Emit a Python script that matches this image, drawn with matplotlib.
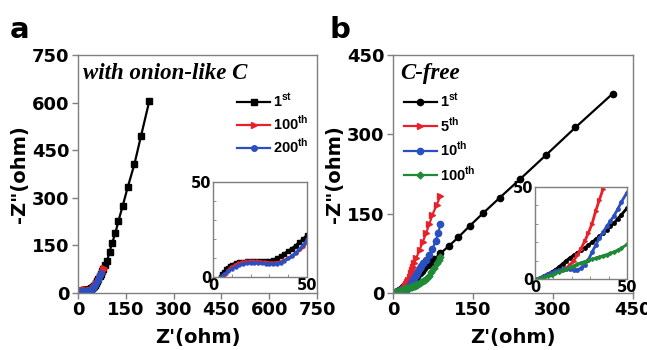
import numpy as np
import matplotlib.pyplot as plt

plt.rcParams['font.family'] = 'DejaVu Sans'
plt.rcParams['font.weight'] = 'bold'
plt.rcParams['mathtext.fontset'] = 'custom'
plt.rcParams['mathtext.rm'] = 'Liberation Sans:bold'
plt.rcParams['mathtext.bf'] = 'Liberation Sans:bold'

# ---- panel a : with onion-like C ----
a1_x = [4, 5, 6, 7, 8, 9, 10, 12, 14, 16, 18, 20, 22, 24, 26, 28, 30, 32, 34, 36, 38, 40,
        42, 44, 46, 48, 50, 53, 56, 60, 64, 68, 72, 76, 80, 85, 91, 99, 107, 117, 127,
        140, 156, 177, 198, 224]
a1_y = [0, 1.5, 2.8, 4, 5, 5.8, 6.5, 7.3, 7.8, 8.1, 8.3, 8.4, 8.4, 8.3, 8.2, 8.2, 8.3, 8.8,
        9.8, 11, 12.3, 13.6, 15, 16.5, 18.2, 20, 22, 26, 31, 38, 45, 52, 60, 68, 77, 87, 100,
        130, 157, 188, 227, 274, 333, 406, 496, 606]
a100_x = [6, 7, 8, 9, 10, 12, 14, 16, 18, 20, 22, 24, 26, 28, 30, 32, 34, 36, 38, 40, 42, 44,
          46, 48, 50, 54, 58, 62, 66, 70, 74, 78, 81]
a100_y = [0, 1.8, 3.2, 4.3, 5.2, 6.5, 7.4, 7.9, 8.2, 8.3, 8.3, 8.2, 8.0, 7.8, 7.6, 7.5, 7.6,
          8.0, 8.8, 9.8, 11, 12.4, 14, 16, 18.2, 24, 31, 39, 47, 55, 63, 71, 78]
a200_x = [4, 6, 8, 10, 12, 14, 16, 18, 20, 22, 24, 26, 28, 30, 32, 34, 36, 38, 40, 42, 44, 46,
          48, 50, 54, 58, 62, 66, 70, 73]
a200_y = [0, 1.5, 3, 4.3, 5.4, 6.3, 6.9, 7.3, 7.5, 7.5, 7.4, 7.2, 7.0, 6.8, 6.8, 7.0, 7.6,
          8.6, 9.8, 11.2, 12.8, 14.6, 16.8, 19.5, 25, 33, 41, 50, 58, 64]
a_labels = [r'1$^{\mathbf{st}}$', r'100$^{\mathbf{th}}$', r'200$^{\mathbf{th}}$']

# ---- panel b : C-free ----
b1_x = [1, 3, 5, 7, 9, 11, 13, 15, 17, 19, 21, 23, 25, 27, 29, 31, 33, 35, 37, 39, 41, 43,
        45, 47, 50, 54, 59, 65, 71, 77, 89, 105, 122, 144, 169, 200, 239, 286, 342, 412]
b1_y = [0, 0.8, 1.8, 2.8, 3.8, 5, 6.6, 8.3, 10, 11.5, 12.9, 14.2, 15.6, 17, 18.4, 20, 21.6,
        23.2, 25, 26.8, 28.6, 30.5, 32.8, 35, 38.5, 42.5, 47.5, 53, 58.5, 64, 75, 89, 105,
        127, 151, 180, 216, 260, 313, 377]
b5_x = [1, 3, 5, 7, 9, 11, 13, 15, 17, 19, 21, 23, 25, 27, 29, 31, 33, 35, 37, 40, 44, 50,
        56, 62, 68, 74, 82, 89]
b5_y = [0, 0.6, 1.3, 2.1, 3, 3.7, 4.4, 5.1, 6, 7.6, 10, 13, 16.5, 20.5, 25, 30, 37, 43, 49,
        57, 67, 82, 97, 113, 130, 148, 167, 184]
b10_x = [1, 3, 5, 7, 9, 11, 13, 15, 17, 19, 21, 23, 25, 27, 29, 31, 33, 35, 37, 39, 41, 43,
         45, 47, 50, 53, 57, 62, 68, 74, 80, 85, 89]
b10_y = [0, 0.8, 1.6, 2.5, 3.5, 4.2, 4.8, 5.2, 5.3, 5.2, 5, 5.1, 5.8, 7.5, 10.5, 14.5, 18.5,
         22.2, 25.5, 28.6, 31.5, 34.5, 38, 42, 47, 51, 56, 62, 72, 84, 98, 114, 131]
b100_x = [1, 3, 5, 7, 9, 11, 13, 15, 17, 19, 21, 23, 25, 27, 29, 31, 33, 35, 37, 39, 41, 43,
          45, 47, 50, 53, 57, 60, 64, 68, 72, 77, 82, 86, 88]
b100_y = [0, 0.5, 1.1, 1.7, 2.3, 3, 3.8, 4.7, 5.5, 6.3, 7.2, 8, 8.8, 9.5, 10.1, 10.7, 11.3,
          12, 12.6, 13.3, 14, 14.8, 15.7, 16.8, 18.8, 21, 23, 25, 29, 33, 40, 47, 56, 63, 68]
b_labels = [r'1$^{\mathbf{st}}$', r'5$^{\mathbf{th}}$', r'10$^{\mathbf{th}}$',
            r'100$^{\mathbf{th}}$']

RED = '#e8202a'
BLUE = '#2a4fc0'
GREEN = '#1f8a35'
FRAME = '#7f7f7f'

a_series = [(a1_x, a1_y, 'black', 's', 4), (a100_x, a100_y, RED, '>', 4.5),
            (a200_x, a200_y, BLUE, 'o', 4)]
b_series = [(b1_x, b1_y, 'black', 'o', 4.5), (b5_x, b5_y, RED, '>', 5),
            (b10_x, b10_y, BLUE, 'o', 4.5), (b100_x, b100_y, GREEN, 'D', 3.5)]


def style_frame(ax):
    for s in ax.spines.values():
        s.set_color(FRAME)
        s.set_linewidth(1.0)


def draw(ax, series, labels=None):
    for i, (x, y, c, m, ms) in enumerate(series):
        ax.plot(x, y, color=c, marker=m, markersize=ms, lw=1.6,
                label=labels[i] if labels else None)


fig = plt.figure(figsize=(6.47, 3.5), dpi=100)

axA = fig.add_axes([78 / 647, 1 - 293 / 350, 239 / 647, 238 / 350])
axB = fig.add_axes([393 / 647, 1 - 293 / 350, 240 / 647, 238 / 350])

for ax, series, labels, lim, ticks in [
        (axA, a_series, a_labels, 750, [0, 150, 300, 450, 600, 750]),
        (axB, b_series, b_labels, 450, [0, 150, 300, 450])]:
    draw(ax, series, labels)
    ax.set_xlim(0, lim)
    ax.set_ylim(0, lim)
    ax.set_xticks(ticks)
    ax.set_yticks(ticks)
    ax.tick_params(direction='out', length=4, width=1, color=FRAME, labelsize=13, pad=2)
    ax.set_xlabel("Z'(ohm)", fontsize=14, fontweight='bold', labelpad=6)
    ax.set_ylabel('-Z"(ohm)', fontsize=14, fontweight='bold', labelpad=2)
    style_frame(ax)

axA.text(0.02, 0.9, 'with onion-like C', transform=axA.transAxes, fontsize=16.5,
         family='Liberation Serif', fontweight='bold', style='italic')
axB.text(0.03, 0.9, 'C-free', transform=axB.transAxes, fontsize=16.5,
         family='Liberation Serif', fontweight='bold', style='italic')

legA = axA.legend(loc='upper left', bbox_to_anchor=(0.64, 0.87), frameon=False,
                  prop={'family': 'Liberation Sans', 'weight': 'bold', 'size': 10.5},
                  handlelength=2.3, handletextpad=0.2, labelspacing=0.3, borderaxespad=0)
legB = axB.legend(loc='upper left', bbox_to_anchor=(0.02, 0.87), frameon=False,
                  prop={'family': 'Liberation Sans', 'weight': 'bold', 'size': 10.5},
                  handlelength=2.3, handletextpad=0.2, labelspacing=0.4, borderaxespad=0)

fig.text(10 / 647, 1 - 38 / 350, 'a', fontsize=21, fontweight='bold')
fig.text(330 / 647, 1 - 38 / 350, 'b', fontsize=21, fontweight='bold')

# insets
inA = fig.add_axes([213 / 647, 1 - 277 / 350, 94 / 647, 95 / 350])
inB = fig.add_axes([535 / 647, 1 - 279 / 350, 92 / 647, 92 / 350])
for ax, series in [(inA, a_series), (inB, b_series)]:
    for x, y, c, m, ms in series:
        ax.plot(x, y, color=c, marker=m, markersize=ms * 0.55, lw=2)
    ax.set_xlim(0, 50)
    ax.set_ylim(0, 50)
    ax.set_xticks([0, 50])
    ax.set_yticks([0, 50])
    ax.set_xticks(np.arange(10, 50, 10), minor=True)
    ax.set_yticks(np.arange(10, 50, 10), minor=True)
    ax.tick_params(which='both', direction='in', length=2, width=0.6, color=FRAME,
                   labelsize=10.5, pad=1)
    style_frame(ax)

fig.savefig('out.png', dpi=100)
